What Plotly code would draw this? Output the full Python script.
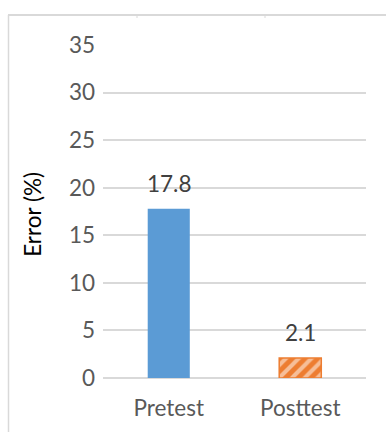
import plotly.graph_objects as go

# Chart data
categories = ["Pretest", "Posttest"]
error_pct = [17.8, 2.1]
y_ticks = [0, 5, 10, 15, 20, 25, 30, 35]

blue = "#5B9BD5"
orange = "#ED7D31"
grid = "#D9D9D9"
font_family = "Lato, 'Open Sans', sans-serif"
fsize = 22.5

fig = go.Figure()

fig.add_trace(go.Bar(
    x=[categories[0]], y=[error_pct[0]],
    width=0.32,
    marker=dict(color=blue, line=dict(width=0)),
    showlegend=False, hoverinfo="skip",
))
fig.add_trace(go.Bar(
    x=[categories[1]], y=[error_pct[1]],
    width=0.32,
    marker=dict(
        color=orange,
        line=dict(color=orange, width=1.5),
        pattern=dict(shape="/", fgcolor="white", size=9, solidity=0.45, fillmode="overlay"),
    ),
    showlegend=False, hoverinfo="skip",
))

# value labels above each bar
for cat, val in zip(categories, error_pct):
    fig.add_annotation(
        x=cat, y=val, text=f"{val}", showarrow=False,
        yanchor="bottom", yshift=10,
        font=dict(family=font_family, size=fsize, color="#404040"),
    )

# y-axis title
fig.add_annotation(
    x=-0.266, y=0.49, xref="paper", yref="paper",
    xanchor="center", yanchor="middle",
    text="Error (%)", textangle=-90, showarrow=False,
    font=dict(family=font_family, size=fsize, color="#000000"),
)

# outer frame lines (top edge with small ticks, left edge)
L, T = 103, 45
W, H = 263, 333


def px(x):
    return (x - L) / W


def py(y):
    return (378 - y) / H


fig.add_shape(type="line", xref="paper", yref="paper",
              x0=px(8), x1=px(386), y0=py(15), y1=py(15),
              line=dict(color=grid, width=2))
fig.add_shape(type="line", xref="paper", yref="paper",
              x0=px(8.5), x1=px(8.5), y0=py(15), y1=py(432),
              line=dict(color=grid, width=1.5))
for tx in (137, 265):
    fig.add_shape(type="line", xref="paper", yref="paper",
                  x0=px(tx), x1=px(tx), y0=py(15), y1=py(18),
                  line=dict(color=grid, width=1))

fig.update_layout(
    width=386, height=432,
    margin=dict(l=L, r=386 - L - W, t=T, b=432 - 378),
    paper_bgcolor="white", plot_bgcolor="white",
    bargap=0.68,
    font=dict(family=font_family, size=fsize, color="#595959"),
    xaxis=dict(
        showgrid=False, showline=False, ticks="",
        ticklabelstandoff=14,
        tickfont=dict(family=font_family, size=fsize, color="#595959"),
        fixedrange=True,
    ),
    yaxis=dict(
        range=[0, 35], tickvals=y_ticks,
        showgrid=True, gridcolor=grid, gridwidth=1.5,
        zeroline=True, zerolinecolor=grid, zerolinewidth=1.5,
        showline=False, ticks="",
        ticklabelstandoff=7,
        tickfont=dict(family=font_family, size=fsize, color="#595959"),
        fixedrange=True,
    ),
)

fig.write_html("out.html")
